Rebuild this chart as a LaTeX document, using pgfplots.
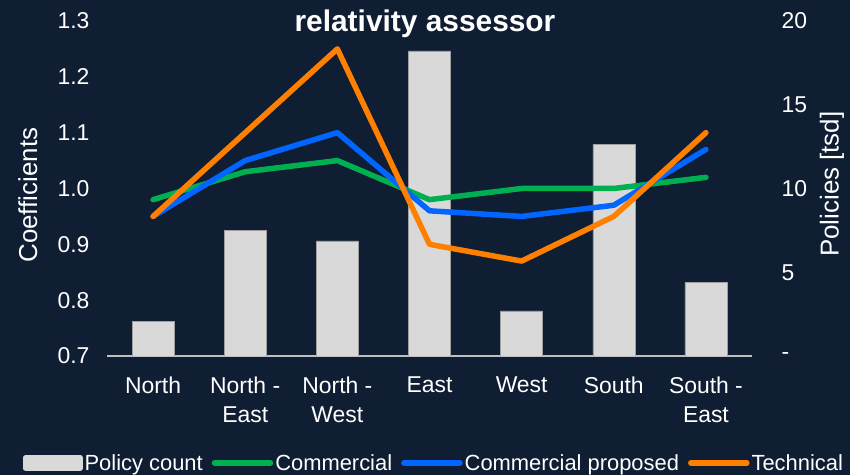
\documentclass[border=0pt]{standalone}
\usepackage{fontspec}
\setmainfont{Liberation Sans}
\usepackage{pgfplots}
\pgfplotsset{compat=1.18}
\definecolor{bg}{RGB}{16,30,51}
\definecolor{barfill}{RGB}{217,217,217}
\definecolor{baredge}{RGB}{160,160,160}
\definecolor{axisgray}{RGB}{191,191,191}
\definecolor{cgreen}{RGB}{0,176,80}
\definecolor{cblue}{RGB}{0,102,255}
\definecolor{corange}{RGB}{255,128,0}
\begin{document}
\begin{tikzpicture}[x=1bp,y=1bp]
\fill[bg] (0,0) rectangle (850,475);
\path[use as bounding box] (0,0) rectangle (850,475);
\node[text=white, font=\fontsize{30}{34}\selectfont\bfseries, anchor=base] at (425,443) {relativity assessor};
% bars, right axis
\begin{axis}[
  at={(107bp,119bp)}, anchor=south west, scale only axis,
  width=645bp, height=335bp,
  xmin=-0.5, xmax=6.5, ymin=0, ymax=20,
  axis y line*=right, axis x line*=bottom,
  x axis line style={draw=axisgray, line width=1.5bp, -},
  y axis line style={draw=none},
  major tick length=0pt,
  xtick={0,1,2,3,4,5,6},
  xticklabels={North, {North -\\East}, {North -\\West}, East, West, South, {South -\\East}},
  xticklabel style={align=center, font=\fontsize{23}{29}\selectfont, text=white, anchor=north, yshift=-17bp},
  ytick={0,5,10,15,20}, yticklabels={-,5,10,15,20},
  yticklabel style={font=\fontsize{23}{28}\selectfont, text=white, anchor=west, xshift=26bp},
  /pgf/number format/assume math mode=true,
  ylabel={Policies [tsd]},
  ylabel style={at={(axis description cs:1.124,0.513)}, anchor=center, rotate=0, font=\fontsize{26}{30}\selectfont, text=white},
  ybar, bar width=42bp,
]
\addplot[fill=barfill, draw=baredge, line width=0.4bp] coordinates {
 (0,2.05) (1,7.50) (2,6.87) (3,18.22) (4,2.70) (5,12.62) (6,4.38)};
\end{axis}
% lines, left axis
\begin{axis}[
  at={(107bp,119bp)}, anchor=south west, scale only axis,
  width=645bp, height=335bp,
  xmin=-0.5, xmax=6.5, ymin=0.7, ymax=1.3,
  axis y line*=left, axis x line=none,
  y axis line style={draw=none},
  major tick length=0pt,
  ytick={0.7,0.8,0.9,1.0,1.1,1.2,1.3},
  yticklabel style={font=\fontsize{23}{28}\selectfont, text=white, anchor=east, xshift=-14bp,
    /pgf/number format/.cd, fixed, fixed zerofill, precision=1},
  /pgf/number format/assume math mode=true,
  ylabel={Coefficients},
  ylabel style={at={(axis description cs:-0.1225,0.48)}, anchor=center, font=\fontsize{26}{30}\selectfont, text=white},
  legend columns=-1,
  legend style={at={(axis description cs:0.507,-0.319)}, anchor=center, draw=none, fill=none,
    text=white, font=\fontsize{22}{26}\selectfont, inner sep=0pt,
    nodes={inner sep=2bp},
    /tikz/every even column/.append style={column sep=7bp}},
  every axis plot/.append style={line width=5.5bp, line cap=round, line join=round},
  legend image code/.code={\draw[#1, line width=5.5bp, line cap=round] (0bp,0bp) -- (56bp,0bp);},
]
\addlegendimage{legend image code/.code={\fill[barfill] (0bp,-5.5bp) rectangle (54bp,5.5bp);}}
\addlegendentry{Policy count}
\addplot[cgreen] coordinates {(0,0.98) (1,1.03) (2,1.05) (3,0.98) (4,1.00) (5,1.00) (6,1.02)};
\addlegendentry{Commercial}
\addplot[cblue] coordinates {(0,0.95) (1,1.05) (2,1.10) (3,0.96) (4,0.95) (5,0.97) (6,1.07)};
\addlegendentry{Commercial proposed}
\addplot[corange] coordinates {(0,0.95) (1,1.10) (2,1.25) (3,0.90) (4,0.87) (5,0.95) (6,1.10)};
\addlegendentry{Technical}
\end{axis}
\end{tikzpicture}
\end{document}
